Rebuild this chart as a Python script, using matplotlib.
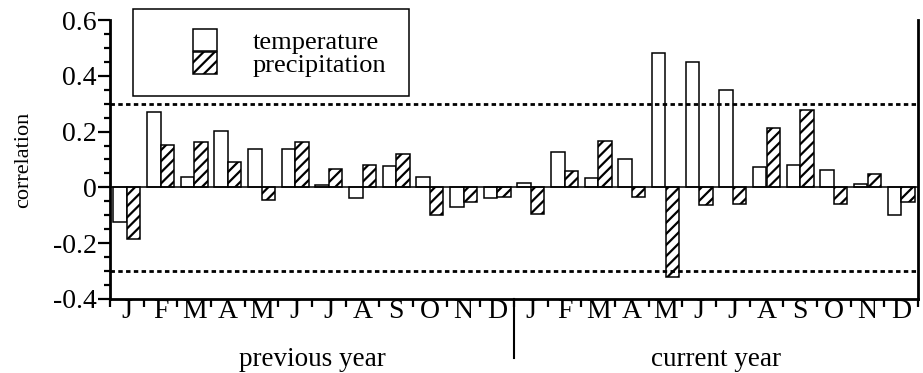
import numpy as np
import matplotlib
matplotlib.use("Agg")
import matplotlib.pyplot as plt
from matplotlib.patches import Rectangle
from matplotlib.ticker import FixedLocator, FixedFormatter, MultipleLocator
import matplotlib.transforms as mtransforms

plt.rcParams['font.family'] = ['Liberation Serif', 'DejaVu Serif']
plt.rcParams['hatch.linewidth'] = 1.6
plt.rcParams['axes.unicode_minus'] = False

# monthly correlations, previous year J..D then current year J..D
months = ["J", "F", "M", "A", "M", "J", "J", "A", "S", "O", "N", "D"] * 2
temperature = [-0.124, 0.271, 0.036, 0.202, 0.138, 0.138, 0.010, -0.039, 0.076, 0.036, -0.069, -0.039,
               0.014, 0.127, 0.032, 0.101, 0.480, 0.451, 0.348, 0.073, 0.082, 0.061, 0.011, -0.099]
precipitation = [-0.184, 0.152, 0.164, 0.090, -0.046, 0.164, 0.065, 0.082, 0.119, -0.098, -0.051, -0.033,
                 -0.096, 0.059, 0.167, -0.036, -0.320, -0.064, -0.058, 0.212, 0.279, -0.059, 0.047, -0.054]
threshold = 0.3
ytick_vals = [-0.4, -0.2, 0, 0.2, 0.4, 0.6]
ytick_labels = ["-0.4", "-0.2", "0", "0.2", "0.4", "0.6"]
groups = ["previous year", "current year"]

fig = plt.figure(figsize=(9.23, 3.73), dpi=100)
ax = fig.add_axes([110/923, 1-299/373, 808/923, 279/373])

x = np.arange(len(months)) + 0.5
b1 = ax.bar(x - 0.2, temperature, width=0.4, facecolor="white", edgecolor="black", lw=1.1, zorder=2)
b2 = ax.bar(x + 0.2, precipitation, width=0.4, facecolor="white", edgecolor="black", lw=1.1,
            hatch="///", zorder=2)

ax.axhline(0, color="black", lw=1.1, zorder=3)
for t in (threshold, -threshold):
    ax.axhline(t, color="black", lw=2, ls=(0, (1.6, 1.2)), zorder=4)

ax.set_xlim(0, len(months))
ax.set_ylim(-0.4, 0.6)

for s in ("left", "bottom", "right"):
    ax.spines[s].set_linewidth(2)
ax.spines["top"].set_visible(False)

ax.yaxis.set_major_locator(FixedLocator(ytick_vals))
ax.yaxis.set_major_formatter(FixedFormatter(ytick_labels))
ax.yaxis.set_minor_locator(MultipleLocator(0.05))
ax.tick_params(axis="y", which="major", length=8.5, width=1.6, labelsize=20, pad=1)
ax.tick_params(axis="y", which="minor", length=4.3, width=1.6)

ax.xaxis.set_major_locator(FixedLocator(np.arange(len(months) + 1)))
ax.xaxis.set_major_formatter(FixedFormatter([""] * (len(months) + 1)))
ax.xaxis.set_minor_locator(FixedLocator(x))
ax.xaxis.set_minor_formatter(FixedFormatter(months))
ax.tick_params(axis="x", which="major", length=5.5, width=1.6)
ax.tick_params(axis="x", which="minor", length=0, labelsize=20, pad=0)

ax.set_ylabel("correlation", fontsize=16, labelpad=14)

trans = mtransforms.blended_transform_factory(ax.transData, ax.transAxes)
ax.plot([12, 12], [0, -0.21], transform=trans, color="black", lw=1.5, clip_on=False)
for i, g in enumerate(groups):
    ax.text(6 + 12*i, -0.24, g, transform=trans, ha="center", va="baseline", fontsize=19.5)

# legend frame drawn separately, contents placed inside it
ax.add_patch(Rectangle((0.0285, 0.7276), 0.3416, 0.3114, transform=ax.transAxes,
                       facecolor="white", edgecolor="black", lw=1.1, clip_on=False, zorder=5))
leg = ax.legend([b1, b2], ["temperature", "precipitation"], loc="upper left",
                bbox_to_anchor=(0.1027, 0.968), frameon=False, borderpad=0,
                labelspacing=-0.06, handlelength=0.9, handleheight=0.9,
                handletextpad=1.35, fontsize=19, borderaxespad=0)
leg.set_zorder(6)

fig.savefig("out.png", dpi=100)
